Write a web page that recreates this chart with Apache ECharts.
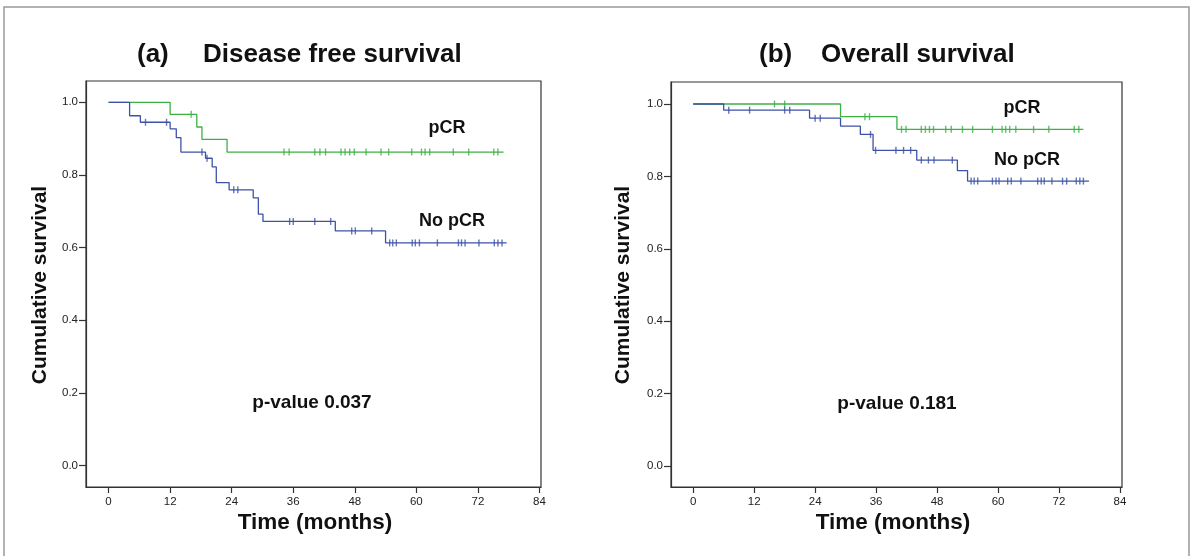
<!DOCTYPE html>
<html>
<head>
<meta charset="utf-8">
<script src="https://cdn.jsdelivr.net/npm/echarts@6/dist/echarts.min.js"></script>
<style>
html,body{margin:0;padding:0;background:#fff;}
#chart{width:1194px;height:556px;}
</style>
</head>
<body>
<div id="chart"></div>
<script>
// ---- Tick labels ----
const xTicks = [0, 12, 24, 36, 48, 60, 72, 84];
const yTicks = [0, 0.2, 0.4, 0.6, 0.8, 1.0];

// ---- (a) Disease free survival ----
// pCR step curve
const dfsPcrT = [0, 12.0, 17.2, 18.2, 23.1, 77.0];
const dfsPcrS = [1.0, 0.967, 0.932, 0.898, 0.863, 0.863];
// pCR censored
const dfsPcrCensT = [16.1, 34.2, 35.2, 40.2, 41.2, 42.3, 45.3, 46.1, 47.0, 47.9, 50.2, 53.1, 54.6, 59.1, 61.0, 61.7, 62.6, 67.2, 70.2, 75.1, 75.9];
const dfsPcrCensS = [0.967, 0.863, 0.863, 0.863, 0.863, 0.863, 0.863, 0.863, 0.863, 0.863, 0.863, 0.863, 0.863, 0.863, 0.863, 0.863, 0.863, 0.863, 0.863, 0.863, 0.863];
// No pCR step curve
const dfsNoT = [0, 4.1, 6.2, 12.0, 13.2, 14.1, 18.9, 20.2, 21.0, 23.5, 28.2, 29.2, 30.1, 44.2, 54.0, 77.6];
const dfsNoS = [1.0, 0.963, 0.945, 0.927, 0.903, 0.863, 0.846, 0.822, 0.779, 0.759, 0.737, 0.692, 0.672, 0.646, 0.613, 0.613];
// No pCR censored
const dfsNoCensT = [7.2, 11.3, 18.2, 19.2, 24.4, 25.2, 35.3, 36.0, 40.2, 43.3, 47.4, 48.1, 51.3, 54.8, 55.4, 56.1, 59.2, 59.8, 60.6, 64.1, 68.2, 68.8, 69.5, 72.2, 75.2, 75.9, 76.7];
const dfsNoCensS = [0.945, 0.945, 0.863, 0.846, 0.759, 0.759, 0.672, 0.672, 0.672, 0.672, 0.646, 0.646, 0.646, 0.613, 0.613, 0.613, 0.613, 0.613, 0.613, 0.613, 0.613, 0.613, 0.613, 0.613, 0.613, 0.613, 0.613];

// ---- (b) Overall survival ----
const osPcrT = [0, 29.0, 40.1, 76.8];
const osPcrS = [1.0, 0.965, 0.930, 0.930];
const osPcrCensT = [16.0, 18.0, 33.8, 34.7, 41.0, 41.9, 44.9, 45.7, 46.5, 47.3, 49.7, 50.8, 53.0, 55.0, 58.9, 60.8, 61.5, 62.3, 63.5, 67.0, 70.0, 75.0, 75.9];
const osPcrCensS = [1.0, 1.0, 0.965, 0.965, 0.930, 0.930, 0.930, 0.930, 0.930, 0.930, 0.930, 0.930, 0.930, 0.930, 0.930, 0.930, 0.930, 0.930, 0.930, 0.930, 0.930, 0.930, 0.930];
const osNoT = [0, 6.0, 22.9, 29.0, 32.9, 35.4, 44.0, 52.0, 54.0, 77.9];
const osNoS = [1.0, 0.983, 0.961, 0.939, 0.916, 0.872, 0.845, 0.816, 0.787, 0.787];
const osNoCensT = [7.0, 11.1, 18.0, 19.0, 24.0, 25.0, 34.9, 35.9, 39.9, 41.4, 42.8, 44.9, 46.3, 47.4, 51.0, 54.7, 55.3, 56.0, 58.9, 59.6, 60.2, 61.9, 62.6, 64.5, 67.8, 68.5, 69.1, 70.6, 72.7, 73.5, 75.4, 76.1, 76.8];
const osNoCensS = [0.983, 0.983, 0.983, 0.983, 0.961, 0.961, 0.916, 0.872, 0.872, 0.872, 0.872, 0.845, 0.845, 0.845, 0.845, 0.787, 0.787, 0.787, 0.787, 0.787, 0.787, 0.787, 0.787, 0.787, 0.787, 0.787, 0.787, 0.787, 0.787, 0.787, 0.787, 0.787, 0.787];

const GREEN = '#3cb043';
const BLUE = '#3d52a6';
const zip = (a, b) => a.map((v, i) => [v, b[i]]);

function xAxisCfg(gi, min, max) {
  return {
    type: 'value', gridIndex: gi, min: min, max: max,
    splitLine: {show: false},
    axisLine: {show: true, onZero: false, lineStyle: {color: '#333', width: 1.2}},
    axisTick: {show: true, inside: false, length: 6, customValues: xTicks, lineStyle: {color: '#333', width: 1.2}},
    axisLabel: {customValues: xTicks, color: '#222', fontSize: 11.5, fontFamily: 'Liberation Sans, Arial', margin: 9}
  };
}
function yAxisCfg(gi, min, max) {
  return {
    type: 'value', gridIndex: gi, min: min, max: max,
    splitLine: {show: false},
    axisLine: {show: true, onZero: false, lineStyle: {color: '#333', width: 1.2}},
    axisTick: {show: true, inside: false, length: 7, customValues: yTicks, lineStyle: {color: '#333', width: 1.2}},
    axisLabel: {customValues: yTicks, color: '#222', fontSize: 11.5, fontFamily: 'Liberation Sans, Arial', margin: 8,
      formatter: v => v.toFixed(1)}
  };
}
function stepSeries(gi, t, s, color) {
  return {type: 'line', xAxisIndex: gi, yAxisIndex: gi, step: 'end', data: zip(t, s),
    symbol: 'none', lineStyle: {color: color, width: 1.3}, silent: true, animation: false};
}
function censSeries(gi, t, s, color) {
  return {type: 'scatter', xAxisIndex: gi, yAxisIndex: gi, data: zip(t, s),
    symbol: 'rect', symbolSize: [1.4, 7], itemStyle: {color: color}, silent: true, animation: false};
}
const bold = (size) => ({fontFamily: 'Liberation Sans, Arial', fontWeight: 'bold', fontSize: size, fill: '#111'});
function txt(x, y, text, size, align, rot) {
  return {type: 'text', x: x, y: y, rotation: rot || 0,
    style: Object.assign({text: text, align: align || 'left', verticalAlign: 'middle'}, bold(size))};
}

const chart = echarts.init(document.getElementById('chart'), null, {renderer: 'canvas'});
chart.setOption({
  backgroundColor: '#fff',
  animation: false,
  grid: [
    {left: 86, top: 81, width: 455, height: 406, show: true, borderColor: '#333', borderWidth: 1.2, backgroundColor: 'transparent'},
    {left: 671, top: 82, width: 451, height: 405, show: true, borderColor: '#333', borderWidth: 1.2, backgroundColor: 'transparent'}
  ],
  xAxis: [xAxisCfg(0, -4.4, 84.3), xAxisCfg(1, -4.37, 84.4)],
  yAxis: [yAxisCfg(0, -0.059, 1.0586), yAxisCfg(1, -0.058, 1.0608)],
  series: [
    stepSeries(0, dfsPcrT, dfsPcrS, GREEN),
    censSeries(0, dfsPcrCensT, dfsPcrCensS, GREEN),
    stepSeries(0, dfsNoT, dfsNoS, BLUE),
    censSeries(0, dfsNoCensT, dfsNoCensS, BLUE),
    stepSeries(1, osPcrT, osPcrS, GREEN),
    censSeries(1, osPcrCensT, osPcrCensS, GREEN),
    stepSeries(1, osNoT, osNoS, BLUE),
    censSeries(1, osNoCensT, osNoCensS, BLUE)
  ],
  graphic: [
    {type: 'rect', shape: {x: 4, y: 7, width: 1185, height: 560}, style: {fill: 'none', stroke: '#999', lineWidth: 1.5}, silent: true},
    txt(137, 55, '(a)', 26),
    txt(203, 55, 'Disease free survival', 26),
    txt(759, 55, '(b)', 26),
    txt(821, 55, 'Overall survival', 26),
    txt(40, 285, 'Cumulative survival', 21, 'center', Math.PI / 2),
    txt(623, 285, 'Cumulative survival', 21, 'center', Math.PI / 2),
    txt(315, 523, 'Time (months)', 22.5, 'center'),
    txt(893, 523, 'Time (months)', 22.5, 'center'),
    txt(447, 128, 'pCR', 18, 'center'),
    txt(452, 221, 'No pCR', 18, 'center'),
    txt(312, 403, 'p-value 0.037', 19, 'center'),
    txt(1022, 108, 'pCR', 18, 'center'),
    txt(1027, 160, 'No pCR', 18, 'center'),
    txt(897, 404, 'p-value 0.181', 19, 'center')
  ]
});
</script>
</body>
</html>
